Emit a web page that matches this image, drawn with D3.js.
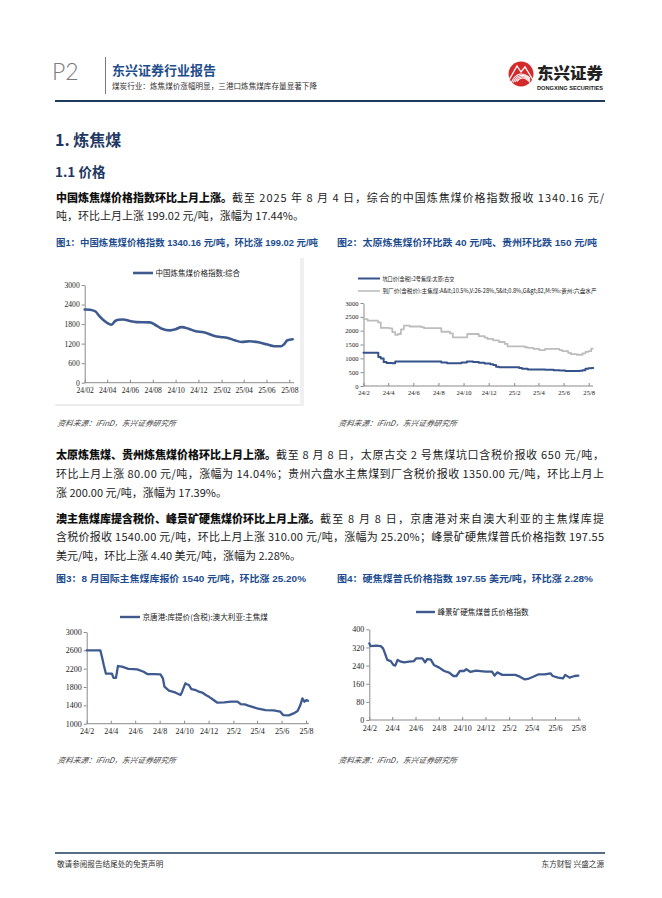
<!DOCTYPE html>
<html><head><meta charset="utf-8">
<script src="https://cdn.jsdelivr.net/npm/d3@7"></script>
<style>html,body{margin:0;padding:0;background:#fff}</style>
</head><body><svg id="page" width="662" height="898"></svg>
<script>
// ---------------- DATA ----------------
const xTickDates = ["2024-02-01","2024-04-01","2024-06-01","2024-08-01","2024-10-01","2024-12-01","2025-02-01","2025-04-01","2025-06-01","2025-08-01"];

// Chart 1: 中国炼焦煤价格指数:综合
const c1Name = "中国炼焦煤价格指数:综合";
const c1Ticks = [0, 600, 1200, 1800, 2400, 3000];
const c1Dates = ["2024-02-01","2024-02-15","2024-03-01","2024-03-12","2024-03-25","2024-04-13","2024-04-22","2024-05-01","2024-05-14","2024-06-01","2024-06-18","2024-07-24","2024-08-07","2024-08-25","2024-09-16","2024-10-01","2024-10-16","2024-11-05","2024-11-22","2024-12-15","2024-12-24","2025-01-11","2025-01-29","2025-02-15","2025-03-08","2025-03-26","2025-04-17","2025-05-10","2025-06-01","2025-06-22","2025-07-10","2025-07-18","2025-07-27","2025-08-10"];
const c1Values = [2247,2240,2186,2034,1892,1780,1890,1932,1942,1892,1861,1851,1780,1657,1607,1640,1708,1657,1586,1546,1520,1444,1403,1383,1302,1251,1271,1241,1180,1119,1119,1180,1302,1332];

// Chart 2: 坑口价 (Taiyuan) and 到厂价 (Guizhou), step series
const c2aName = "坑口价(含税):2号焦煤:太原:古交";
const c2bName = "到厂价(含税价):主焦煤:A&lt;10.5%,V:26-28%,S&lt;0.8%,G&gt;82,M:9%:贵州:六盘水产";
const c2Ticks = [0, 500, 1000, 1500, 2000, 2500, 3000];
const c2aDates = ["2024-02-01","2024-03-08","2024-03-14","2024-03-21","2024-03-28","2024-04-11","2024-04-18","2024-08-08","2024-08-22","2024-09-26","2024-10-09","2024-10-24","2024-11-07","2024-11-21","2024-12-05","2024-12-12","2024-12-19","2024-12-26","2025-02-13","2025-02-20","2025-03-06","2025-04-17","2025-05-08","2025-05-22","2025-06-05","2025-06-26","2025-07-10","2025-07-17","2025-07-24","2025-07-31","2025-08-08","2025-08-12"];
const c2aValues = [1200,1050,990,870,830,820,890,845,820,850,885,865,840,815,790,760,700,675,650,620,600,590,570,560,545,540,555,570,620,640,650,650];
const c2bDates = ["2024-02-01","2024-02-11","2024-03-07","2024-03-14","2024-04-04","2024-04-11","2024-04-18","2024-04-25","2024-05-02","2024-05-09","2024-05-23","2024-06-20","2024-06-27","2024-08-08","2024-08-29","2024-09-05","2024-10-10","2024-11-07","2024-11-21","2024-11-28","2024-12-12","2024-12-26","2025-01-09","2025-01-16","2025-02-27","2025-03-06","2025-03-20","2025-04-03","2025-04-17","2025-05-22","2025-05-29","2025-06-12","2025-06-19","2025-07-03","2025-07-17","2025-07-24","2025-07-31","2025-08-07","2025-08-11"];
const c2bValues = [2420,2360,2300,2100,2080,1950,1850,1880,2050,2180,2150,2130,2090,1960,1900,1760,1880,1800,1750,1700,1650,1590,1520,1430,1400,1380,1340,1300,1340,1300,1260,1200,1150,1130,1180,1230,1260,1350,1350];

// Chart 3: 京唐港:库提价(含税):澳大利亚:主焦煤
const c3Name = "京唐港:库提价(含税):澳大利亚:主焦煤";
const c3Ticks = [1000, 1400, 1800, 2200, 2600, 3000];
const c3Dates = ["2024-02-01","2024-03-06","2024-03-10","2024-03-15","2024-03-20","2024-04-04","2024-04-08","2024-04-14","2024-04-19","2024-04-29","2024-05-15","2024-05-28","2024-06-06","2024-06-22","2024-07-01","2024-07-20","2024-08-03","2024-08-09","2024-08-13","2024-08-24","2024-09-02","2024-09-10","2024-09-22","2024-09-26","2024-10-04","2024-10-08","2024-10-13","2024-10-19","2024-10-28","2024-11-07","2024-11-15","2024-11-24","2024-12-03","2024-12-10","2024-12-23","2025-01-09","2025-01-26","2025-02-11","2025-02-19","2025-03-01","2025-03-10","2025-04-01","2025-04-22","2025-05-12","2025-05-29","2025-06-05","2025-06-19","2025-07-01","2025-07-11","2025-07-18","2025-07-23","2025-07-28","2025-08-02","2025-08-06"];
const c3Values = [2600,2600,2460,2265,2090,2090,2000,2000,2258,2244,2195,2190,2185,2134,2084,2080,2076,1990,1807,1720,1700,1676,1625,1698,1880,1860,1844,1756,1740,1698,1680,1625,1580,1538,1458,1465,1480,1480,1429,1420,1393,1335,1298,1291,1262,1189,1182,1225,1276,1407,1553,1480,1516,1500];

// Chart 4: 峰景矿硬焦煤普氏价格指数
const c4Name = "峰景矿硬焦煤普氏价格指数";
const c4Ticks = [0, 80, 160, 240, 320, 400];
const c4Dates = ["2024-02-01","2024-02-04","2024-02-19","2024-03-02","2024-03-08","2024-03-13","2024-03-19","2024-03-28","2024-04-04","2024-04-09","2024-04-15","2024-04-24","2024-05-02","2024-05-15","2024-05-28","2024-06-03","2024-06-19","2024-06-26","2024-07-02","2024-07-11","2024-07-19","2024-08-02","2024-08-15","2024-08-28","2024-09-08","2024-09-16","2024-09-25","2024-10-06","2024-10-12","2024-10-23","2024-11-06","2024-12-01","2024-12-18","2024-12-25","2025-01-01","2025-01-14","2025-02-05","2025-02-17","2025-03-01","2025-03-14","2025-03-22","2025-04-05","2025-04-18","2025-05-05","2025-05-20","2025-05-26","2025-06-09","2025-06-22","2025-06-28","2025-07-09","2025-07-22","2025-08-01"];
const c4Values = [338,326,328,326,316,294,265,260,243,240,265,257,254,257,260,272,272,254,269,266,243,231,216,209,194,194,216,216,224,212,218,213,213,196,210,199,199,199,191,179,181,191,201,201,206,194,187,184,199,187,194,196];

// ---------------- DRAWING ----------------
const CJK = "'Noto Sans CJK SC','Noto Sans',sans-serif";
const SERIF = "'Liberation Serif','DejaVu Serif',serif";
const SANS = "'Liberation Sans','Noto Sans CJK SC',sans-serif";
const BLUE_LINE = "#3e5a8e";
const TITLE_BLUE = "#1e4d8f";
const parse = d3.timeParse("%Y-%m-%d");
const svg = d3.select("#page");
svg.append("rect").attr("width",662).attr("height",898).attr("fill","#fff");

// Header
svg.append("text").attr("x",52).attr("y",80).text("P2")
  .attr("font-family","Lato,'Open Sans',sans-serif").attr("font-weight",300)
  .attr("font-size",23).attr("fill","#7a7a7a");
svg.append("line").attr("x1",105.5).attr("x2",105.5).attr("y1",57).attr("y2",94)
  .attr("stroke","#555").attr("stroke-width",0.8);
svg.append("text").attr("x",112).attr("y",75).text("东兴证券行业报告")
  .attr("font-family",CJK).attr("font-weight",700).attr("font-size",13).attr("fill","#1f4e8c");
svg.append("text").attr("x",112).attr("y",89).text("煤炭行业：炼焦煤价涨幅明显，三港口炼焦煤库存量显著下降")
  .attr("font-family",CJK).attr("font-size",7.6).attr("fill","#333");
// logo
const logo = svg.append("g");
logo.append("circle").attr("cx",521).attr("cy",74).attr("r",12.5).attr("fill","#d52a2c");
[0,1,2,3].forEach(i=>{
  logo.append("path").attr("d",`M${511+i*2},${83-i*0.5} Q${518+i*1.5},${68+i*2} ${530},${78+i*1.5}`)
    .attr("fill","none").attr("stroke","#fff").attr("stroke-width",1.1);
});
logo.append("path").attr("d","M509,80 L517,66 L521,72 L525,67 L533,80")
  .attr("fill","none").attr("stroke","#fff").attr("stroke-width",1.3);
logo.append("text").attr("x",537).attr("y",79).text("东兴证券")
  .attr("font-family",CJK).attr("font-weight",900).attr("font-size",15.5).attr("fill","#222")
  .attr("textLength",66).attr("lengthAdjust","spacingAndGlyphs");
logo.append("text").attr("x",537).attr("y",90).text("DONGXING SECURITIES")
  .attr("font-family",SANS).attr("font-weight",700).attr("font-size",4.8).attr("fill","#222")
  .attr("textLength",66).attr("lengthAdjust","spacingAndGlyphs");
svg.append("line").attr("x1",55).attr("x2",605).attr("y1",101).attr("y2",101)
  .attr("stroke","#1d3c5c").attr("stroke-width",2.2);

// Headings
svg.append("text").attr("x",55).attr("y",146).text("1. 炼焦煤")
  .attr("font-family",CJK).attr("font-weight",700).attr("font-size",16).attr("fill","#1f3864");
svg.append("text").attr("x",55).attr("y",177).text("1.1 价格")
  .attr("font-family",CJK).attr("font-weight",700).attr("font-size",13.5).attr("fill","#1f3864");

// Paragraph lines
function textLine(y, bold, rest, justify){
  const x0 = 56, x1 = 604;
  let bw = 0;
  if (bold){
    const tb = svg.append("text").attr("x",x0).attr("y",y).text(bold)
      .attr("font-family",CJK).attr("font-weight",800).attr("font-size",11).attr("fill","#111");
    bw = tb.node().getComputedTextLength();
  }
  const tr = svg.append("text").attr("x",x0+bw).attr("y",y).text(rest)
    .attr("font-family",CJK).attr("font-size",11).attr("fill","#222");
  if (justify) tr.attr("textLength",x1-x0-bw).attr("lengthAdjust","spacing");
}
textLine(202,"中国炼焦煤价格指数环比上月上涨。","截至 2025 年 8 月 4 日，综合的中国炼焦煤价格指数报收 1340.16 元/",true);
textLine(220,null,"吨，环比上月上涨 199.02 元/吨，涨幅为 17.44%。",false);
textLine(459,"太原炼焦煤、贵州炼焦煤价格环比上月上涨。","截至 8 月 8 日，太原古交 2 号焦煤坑口含税价报收 650 元/吨，",true);
textLine(478,null,"环比上月上涨 80.00 元/吨，涨幅为 14.04%；贵州六盘水主焦煤到厂含税价报收 1350.00 元/吨，环比上月上",true);
textLine(497,null,"涨 200.00 元/吨，涨幅为 17.39%。",false);
textLine(523,"澳主焦煤库提含税价、峰景矿硬焦煤价环比上月上涨。","截至 8 月 8 日，京唐港对来自澳大利亚的主焦煤库提",true);
textLine(541,null,"含税价报收 1540.00 元/吨，环比上月上涨 310.00 元/吨，涨幅为 25.20%；峰景矿硬焦煤普氏价格指数 197.55",true);
textLine(560,null,"美元/吨，环比上涨 4.40 美元/吨，涨幅为 2.28%。",false);

// Figure titles
function figTitle(x,y,t,len){
  svg.append("text").attr("x",x).attr("y",y).text(t)
    .attr("font-family","'Liberation Sans','Noto Sans CJK SC',sans-serif").attr("font-weight",700)
    .attr("font-size",9.6).attr("fill",TITLE_BLUE)
    .attr("textLength",len).attr("lengthAdjust","spacingAndGlyphs");
}
figTitle(56,246,"图1：中国炼焦煤价格指数 1340.16 元/吨，环比涨 199.02 元/吨",262);
figTitle(337,246,"图2：太原炼焦煤价环比跌 40 元/吨、贵州环比跌 150 元/吨",260);
figTitle(56,582,"图3：8 月国际主焦煤库报价 1540 元/吨，环比涨 25.20%",250);
figTitle(337,582,"图4：硬焦煤普氏价格指数 197.55 美元/吨，环比涨 2.28%",256);

function source(x,y){
  svg.append("text").attr("x",x).attr("y",y).text("资料来源：iFinD，东兴证券研究所")
    .attr("font-family",CJK).attr("font-style","italic").attr("font-size",7.7).attr("fill","#444")
    .attr("transform",`skewX(-10) translate(${y*Math.tan(10*Math.PI/180)},0)`);
}
source(57,426); source(338,426); source(57,763); source(338,763);

// chart panel hints
svg.append("line").attr("x1",55).attr("x2",304).attr("y1",405).attr("y2",405).attr("stroke","#e6e6e6").attr("stroke-width",1.5);
svg.append("rect").attr("x",300).attr("y",258).attr("width",4).attr("height",147).attr("fill","#f0f0f0");

// Chart builder
function drawChart(o){
  const g = svg.append("g");
  const x = d3.scaleTime().domain([parse(xTickDates[0]), parse(xTickDates[xTickDates.length-1])]).range([o.x0,o.x1]);
  const y = d3.scaleLinear().domain(o.yDomain).range([o.yBottom,o.yTop]);
  const ya = g.append("g").attr("transform",`translate(${o.x0},0)`)
    .call(d3.axisLeft(y).tickValues(o.yTicks).tickFormat(d3.format("d")).tickSize(3).tickSizeOuter(0).tickPadding(2));
  const xa = g.append("g").attr("transform",`translate(0,${o.yBottom})`)
    .call(d3.axisBottom(x).tickValues(xTickDates.map(parse)).tickFormat(d3.timeFormat(o.fmt))
      .tickSizeInner(-3).tickSizeOuter(0).tickPadding(o.pad));
  xa.select(".domain").remove();
  g.append("line").attr("x1",o.x0).attr("x2",o.xEnd).attr("y1",o.yBottom).attr("y2",o.yBottom)
    .attr("stroke","#8a8a8a").attr("stroke-width",1);
  [ya,xa].forEach(a=>{
    a.selectAll("path,line").attr("stroke","#8a8a8a");
    a.selectAll("text").attr("font-family",SERIF).attr("font-size",o.fs).attr("fill","#222");
  });
  o.series.forEach(s=>{
    const pts = s.dates.map((d,i)=>({d:parse(d), v:s.values[i]}));
    g.append("path").datum(pts)
      .attr("d", d3.line().x(p=>x(p.d)).y(p=>y(p.v)).curve(s.curve))
      .attr("fill","none").attr("stroke",s.color).attr("stroke-width",s.width)
      .attr("stroke-linejoin","round").attr("stroke-linecap","round");
  });
  o.legend.forEach(l=>{
    g.append("line").attr("x1",l.x).attr("x2",l.x+l.w).attr("y1",l.y).attr("y2",l.y)
      .attr("stroke",l.color).attr("stroke-width",l.sw);
    const t = g.append("text").attr("x",l.x+l.w+2.5).attr("y",l.y).attr("dy","0.35em").text(l.name)
      .attr("font-family",CJK).attr("font-size",l.fs).attr("fill","#222");
    if (l.len) t.attr("textLength",l.len).attr("lengthAdjust","spacingAndGlyphs");
  });
}

drawChart({x0:84.7,x1:289.3,xEnd:294,yBottom:382.7,yTop:285,yDomain:[0,3000],yTicks:c1Ticks,
  fmt:"%y/%m",pad:5,fs:7.6,
  series:[{dates:c1Dates,values:c1Values,color:BLUE_LINE,width:2.6,curve:d3.curveMonotoneX}],
  legend:[{x:133,y:273,w:20,name:c1Name,color:BLUE_LINE,sw:2.6,fs:7.5}]});

drawChart({x0:363.5,x1:588.7,xEnd:593,yBottom:386,yTop:303,yDomain:[0,3000],yTicks:c2Ticks,
  fmt:"%y/%-m",pad:4,fs:6.6,
  series:[{dates:c2bDates,values:c2bValues,color:"#bdbdbd",width:1.8,curve:d3.curveStepAfter},
          {dates:c2aDates,values:c2aValues,color:"#35528a",width:2,curve:d3.curveStepAfter}],
  legend:[{x:358,y:278.5,w:22,name:c2aName,color:"#35528a",sw:2,fs:6,len:72},
          {x:358,y:291,w:22,name:c2bName,color:"#bdbdbd",sw:1.6,fs:6,len:214}]});

drawChart({x0:86.7,x1:306,xEnd:309,yBottom:723.7,yTop:632,yDomain:[1000,3000],yTicks:c3Ticks,
  fmt:"%y/%-m",pad:5,fs:8,
  series:[{dates:c3Dates,values:c3Values,color:BLUE_LINE,width:2.3,curve:d3.curveLinear}],
  legend:[{x:120,y:617,w:20,name:c3Name,color:BLUE_LINE,sw:2.4,fs:7.6}]});

drawChart({x0:369.3,x1:578.3,xEnd:581,yBottom:720,yTop:629.3,yDomain:[0,400],yTicks:c4Ticks,
  fmt:"%y/%-m",pad:5,fs:8,
  series:[{dates:c4Dates,values:c4Values,color:BLUE_LINE,width:2.3,curve:d3.curveLinear}],
  legend:[{x:416,y:612,w:19,name:c4Name,color:BLUE_LINE,sw:2.4,fs:7.6}]});

// Footer
svg.append("line").attr("x1",55).attr("x2",605).attr("y1",853).attr("y2",853)
  .attr("stroke","#1d3c5c").attr("stroke-width",1.3);
svg.append("text").attr("x",57).attr("y",867).text("敬请参阅报告结尾处的免责声明")
  .attr("font-family",CJK).attr("font-size",7.6).attr("fill","#333");
svg.append("text").attr("x",604).attr("y",867).attr("text-anchor","end").text("东方财智 兴盛之源")
  .attr("font-family",CJK).attr("font-size",7.6).attr("fill","#333");
</script></body></html>
